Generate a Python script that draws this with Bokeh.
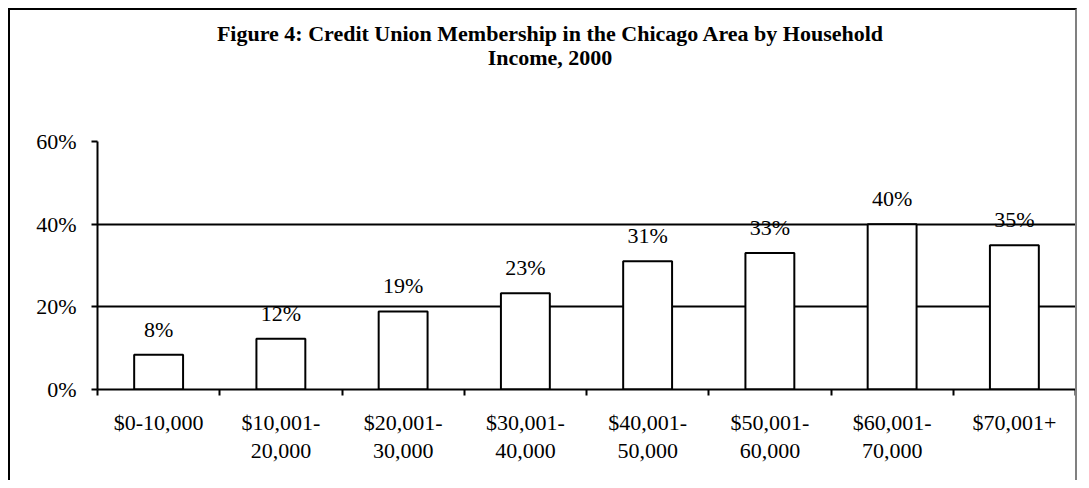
from bokeh.plotting import figure
from bokeh.layouts import column
from bokeh.models import (ColumnDataSource, LinearAxis, FixedTicker, Div,
                          NumeralTickFormatter, Grid, LabelSet)
from bokeh.embed import file_html
from bokeh.resources import INLINE

# ---- data ----
categories = ["$0-10,000", "$10,001-\n20,000", "$20,001-\n30,000", "$30,001-\n40,000",
              "$40,001-\n50,000", "$50,001-\n60,000", "$60,001-\n70,000", "$70,001+"]
membership = [0.084, 0.123, 0.189, 0.233, 0.310, 0.330, 0.400, 0.349]
y_ticks = [0.0, 0.2, 0.4, 0.6]
title_line1 = "Figure 4: Credit Union Membership in the Chicago Area by Household"
title_line2 = "Income, 2000"

FONT = "Liberation Serif"
FS = "22px"
W = 1065

n = len(categories)
centers = [i + 0.5 for i in range(n)]
edges = list(range(n + 1))
bar_labels = [f"{round(v * 100)}%" for v in membership]
src = ColumnDataSource(dict(x=centers, cat=categories, val=membership, label=bar_labels))

# ---- title block ----
title = Div(text=(f'<div style="display:block; width:{W}px; box-sizing:border-box; '
                  f'text-align:center; padding:12px 0 0 15px; '
                  f'font-family:\'{FONT}\'; font-weight:bold; font-size:{FS}; '
                  f'line-height:24px; color:#000;">{title_line1}<br>{title_line2}</div>'),
            width=W, height=101, margin=0,
            styles={"text-align": "center"})

p = figure(x_range=(0, n), y_range=(0, 0.6), width=W, height=369,
           output_backend="svg", toolbar_location=None,
           x_axis_location=None, y_axis_location=None,
           min_border_left=87, min_border_right=0, min_border_top=30, min_border_bottom=91)
p.outline_line_color = None
p.background_fill_color = "white"
p.border_fill_color = "white"
p.grid.visible = False

# horizontal grid lines
p.add_layout(Grid(dimension=1, ticker=FixedTicker(ticks=y_ticks[1:3]),
                  grid_line_color="black", grid_line_width=2))
p.add_layout(Grid(dimension=1, ticker=FixedTicker(ticks=y_ticks[3:]),
                  grid_line_color="#808080", grid_line_width=2))

# x axis: category labels at centres, tick marks on category boundaries
xax = LinearAxis(ticker=FixedTicker(ticks=centers, minor_ticks=edges),
                 major_label_overrides={c: cat for c, cat in zip(centers, categories)},
                 major_tick_in=0, major_tick_out=0, minor_tick_in=0, minor_tick_out=6,
                 minor_tick_line_width=2, minor_tick_line_color="black",
                 axis_line_width=2, axis_line_color="black",
                 major_label_standoff=14, major_label_text_font=FONT,
                 major_label_text_font_size=FS, major_label_text_color="black",
                 major_label_text_line_height=1.12)
p.add_layout(xax, "below")

# y axis
yax = LinearAxis(ticker=FixedTicker(ticks=y_ticks), formatter=NumeralTickFormatter(format="0%"),
                 major_tick_in=0, major_tick_out=6, minor_tick_in=0, minor_tick_out=0,
                 axis_line_width=2, axis_line_color="black",
                 major_tick_line_width=2, major_tick_line_color="black",
                 major_label_standoff=15, major_label_text_font=FONT,
                 major_label_text_font_size=FS, major_label_text_color="black")
p.add_layout(yax, "left")

# bars
p.vbar(x="x", top="val", width=0.4, source=src,
       fill_color="white", line_color="black", line_width=2)

# value labels
p.add_layout(LabelSet(x="x", y="val", text="label", source=src, y_offset=18,
                      text_align="center", text_baseline="alphabetic",
                      text_font=FONT, text_font_size=FS, text_color="black"))

layout = column(title, p, spacing=0,
                styles={"margin-left": "8px", "margin-top": "8px",
                        "border-left": "2px solid #000000", "border-top": "2px solid #000000",
                        "border-right": "2px solid #808080", "background": "white"})

open("out.html", "w").write(file_html(layout, INLINE))
